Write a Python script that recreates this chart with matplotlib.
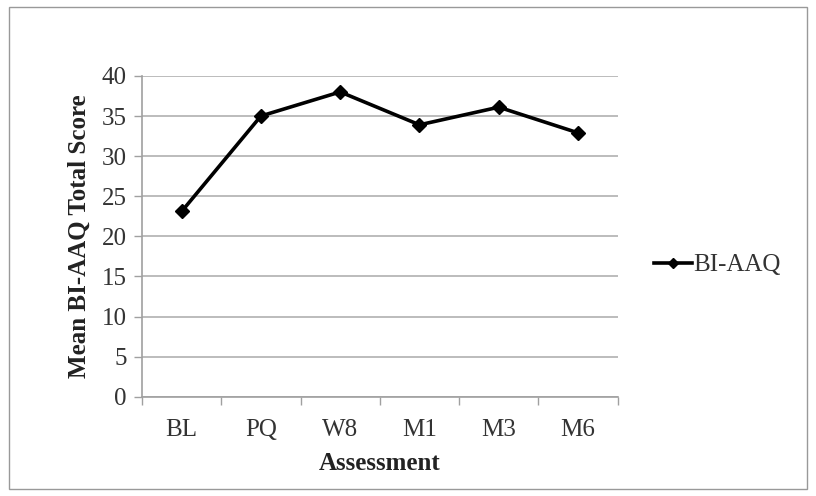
import matplotlib.pyplot as plt
import numpy as np
from matplotlib.patches import Rectangle

# Mean BI-AAQ scores by assessment point
assessments = ["BL", "PQ", "W8", "M1", "M3", "M6"]
scores = [23.1, 35.0, 38.0, 33.9, 36.1, 32.9]

plt.rcParams["font.family"] = ["Liberation Serif", "DejaVu Serif"]

fig = plt.figure(figsize=(8.16, 4.96), dpi=100)
ax = fig.add_axes([0.174, 0.2, 0.583, 0.647])

x = np.arange(len(assessments))
ax.plot(x, scores, color="black", linewidth=2.6, marker="D", markersize=7,
        label="BI-AAQ", zorder=3)

ax.set_xlim(-0.5, len(assessments) - 0.5)
ax.set_ylim(0, 40)
ax.set_yticks(range(0, 41, 5))
ax.set_xticks(x)
ax.set_xticklabels(assessments)
ax.set_xticks(np.arange(-0.5, len(assessments)), minor=True)

ax.yaxis.grid(True, color="#b0b0b0", linewidth=1.2)
ax.set_axisbelow(True)
for side in ["top", "right"]:
    ax.spines[side].set_visible(False)
for side in ["left", "bottom"]:
    ax.spines[side].set_color("#a0a0a0")
    ax.spines[side].set_linewidth(1.2)

ax.tick_params(axis="x", which="major", length=0, labelsize=18, pad=16, colors="#333333")
ax.tick_params(axis="x", which="minor", length=6, color="#a0a0a0", width=1)
ax.tick_params(axis="y", length=6, color="#a0a0a0", width=1, labelsize=18,
               pad=5, colors="#333333")

ax.set_xlabel("Assessment", fontsize=18, fontweight="bold", labelpad=8, color="#222222")
ax.set_ylabel("Mean BI-AAQ Total Score", fontsize=18, fontweight="bold", labelpad=8,
              color="#222222")

ax.legend(loc="center left", bbox_to_anchor=(1.03, 0.41), frameon=False,
          fontsize=18, handlelength=1.5, handletextpad=0.05, markerscale=0.75,
          labelcolor="#333333")

# thin frame around the whole chart
fig.patches.append(Rectangle((0.011, 0.014), 0.978, 0.972, transform=fig.transFigure,
                             fill=False, edgecolor="#999999", linewidth=1))

fig.savefig("out.png", dpi=100)
